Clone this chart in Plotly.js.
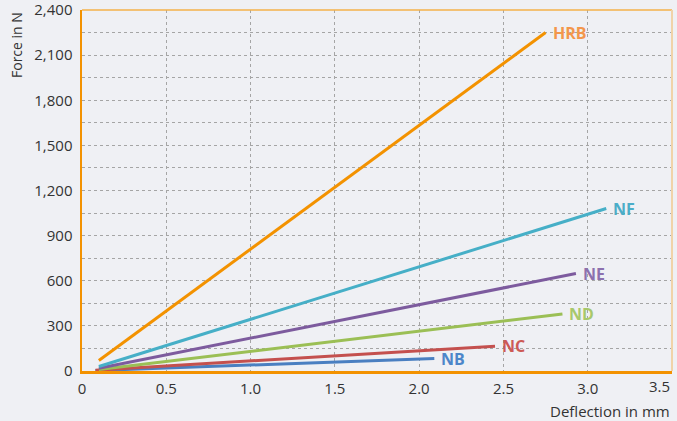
<!DOCTYPE html>
<html>
<head>
<meta charset="utf-8">
<script src="https://cdn.plot.ly/plotly-3.0.1.min.js"></script>
<style>html,body{margin:0;padding:0;background:#eff0f4;}#chart{width:677px;height:421px;}</style>
</head>
<body>
<div id="chart"></div>
<script>
// Data (deflection in mm, force in N)
const seriesNames = ['NB', 'NC', 'ND', 'NE', 'NF', 'HRB'];
const deflectionNB = [0.08, 2.09];
const forceNB = [3, 83];
const deflectionNC = [0.08, 2.45];
const forceNC = [5, 165];
const deflectionND = [0.1, 2.85];
const forceND = [10, 379];
const deflectionNE = [0.1, 2.93];
const forceNE = [18, 648];
const deflectionNF = [0.1, 3.11];
const forceNF = [30, 1080];
const deflectionHRB = [0.1, 2.75];
const forceHRB = [70, 2250];
const yTickValues = [0, 300, 600, 900, 1200, 1500, 1800, 2100, 2400];
const xTickValues = [0, 0.5, 1.0, 1.5, 2.0, 2.5, 3.0, 3.5];
const xTickLabels = ['0', '0.5', '1.0', '1.5', '2.0', '2.5', '3.0', '3.5'];

const lineColors = {NB:'#4a7fc1', NC:'#c4504e', ND:'#9bbf55', NE:'#7d5b9e', NF:'#46afc7', HRB:'#f39200'};
const labelColors = {NB:'#4c86c9', NC:'#cd5a55', ND:'#a8c86b', NE:'#8c70ae', NF:'#4badc8', HRB:'#f3964b'};
const xs = {NB:deflectionNB, NC:deflectionNC, ND:deflectionND, NE:deflectionNE, NF:deflectionNF, HRB:deflectionHRB};
const ys = {NB:forceNB, NC:forceNC, ND:forceND, NE:forceNE, NF:forceNF, HRB:forceHRB};

const traces = seriesNames.map(n => ({
  x: xs[n], y: ys[n], type: 'scatter', mode: 'lines', name: n,
  line: {color: lineColors[n], width: 3}, hoverinfo: 'skip'
}));

const annotations = seriesNames.map(n => ({
  x: xs[n][1], y: ys[n][1], xref: 'x', yref: 'y', text: '<b>' + n + '</b>',
  showarrow: false, xanchor: 'left', yanchor: 'middle', xshift: 5,
  font: {family: 'Open Sans, sans-serif', size: 16, color: labelColors[n]}
}));
annotations.push({
  xref: 'paper', yref: 'paper', x: 0, xshift: -66, y: 1.0, text: 'Force in N', textangle: -90,
  showarrow: false, xanchor: 'center', yanchor: 'top',
  font: {family: 'Open Sans, sans-serif', size: 14, color: '#333'}
});
annotations.push({
  xref: 'paper', yref: 'paper', x: 1.0, y: 0, yshift: -28, text: 'Deflection in mm',
  showarrow: false, xanchor: 'right', yanchor: 'top',
  font: {family: 'Open Sans, sans-serif', size: 15, color: '#333'}
});
// last x tick label, nudged inside the page like the reference
const lastIdx = xTickLabels.length - 1;
annotations.push({
  xref: 'paper', yref: 'paper', x: 1.0, y: 0, yshift: -3, text: xTickLabels[lastIdx],
  showarrow: false, xanchor: 'right', yanchor: 'top',
  font: {family: 'Open Sans, sans-serif', size: 15, color: '#333'}
});
const shownXTickText = xTickLabels.map((t, i) => i === lastIdx ? '' : t);

const layout = {
  width: 677, height: 421,
  paper_bgcolor: '#eff0f4', plot_bgcolor: '#eff0f4',
  margin: {l: 82, r: 5, t: 10, b: 50},
  showlegend: false,
  font: {family: 'Open Sans, sans-serif', size: 15, color: '#333'},
  xaxis: {
    range: [0, 3.5], tickvals: xTickValues, ticktext: shownXTickText,
    showgrid: true, gridcolor: '#a5a5a5', griddash: 'dot', gridwidth: 1,
    zeroline: false, showline: true, linecolor: '#f39200', linewidth: 3,
    ticks: '', ticklabelstandoff: 2, ticklabeloverflow: 'allow', fixedrange: true
  },
  yaxis: {
    range: [0, 2400], tickvals: yTickValues, tickformat: ',d',
    showgrid: true, gridcolor: '#a5a5a5', griddash: 'dot', gridwidth: 1,
    minor: {dtick: 150, showgrid: true, gridcolor: '#a5a5a5', griddash: 'dot', gridwidth: 1},
    zeroline: false, showline: true, linecolor: '#f39200', linewidth: 2.5,
    ticks: '', ticklabelstandoff: 4, ticklabeloverflow: 'allow', fixedrange: true
  },
  shapes: [
    {type: 'line', xref: 'paper', yref: 'paper', x0: 0, x1: 1, y0: 1, y1: 1, line: {color: '#f5b24a', width: 1.5}},
    {type: 'line', xref: 'paper', yref: 'paper', x0: 1, x1: 1, y0: 0, y1: 1, line: {color: '#f0d3a8', width: 2}}
  ],
  annotations: annotations
};

Plotly.newPlot('chart', traces, layout, {displayModeBar: false, staticPlot: true});
</script>
</body>
</html>
